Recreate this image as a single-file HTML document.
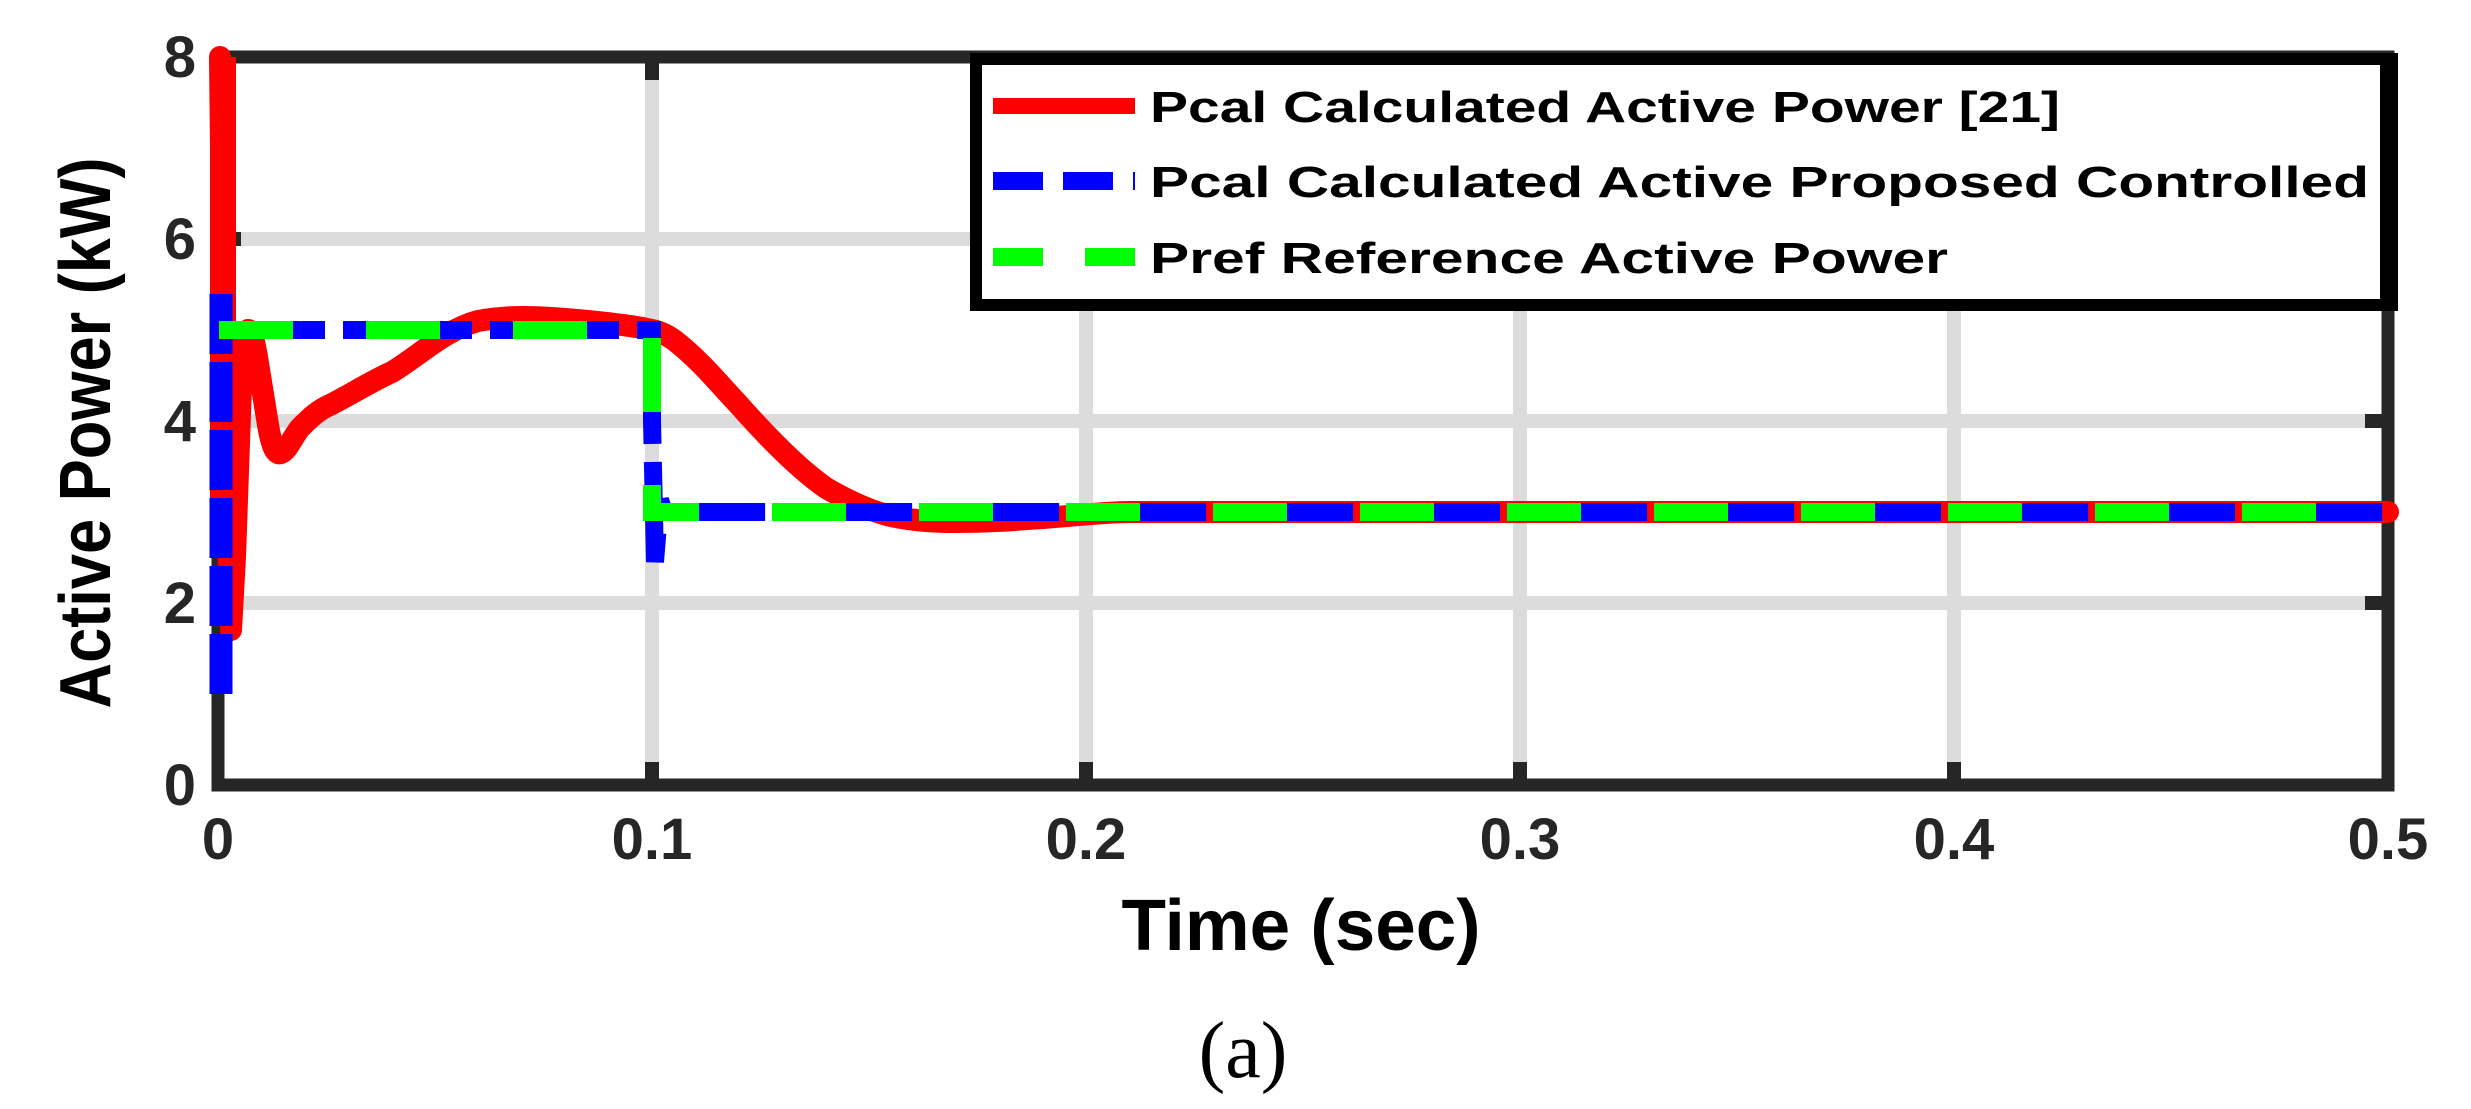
<!DOCTYPE html>
<html><head><meta charset="utf-8"><style>html,body{margin:0;padding:0;background:#fff}svg{display:block}</style></head>
<body>
<svg width="2471" height="1109" viewBox="0 0 2471 1109" xmlns="http://www.w3.org/2000/svg" font-family="Liberation Sans, Arial, sans-serif" font-weight="bold">
<rect width="2471" height="1109" fill="#fff"/>
<!-- grid -->
<g stroke="#dcdcdc" stroke-width="14">
<line x1="652" y1="57" x2="652" y2="785"/>
<line x1="1086" y1="57" x2="1086" y2="785"/>
<line x1="1520" y1="57" x2="1520" y2="785"/>
<line x1="1954" y1="57" x2="1954" y2="785"/>
<line x1="218" y1="239" x2="2388" y2="239"/>
<line x1="218" y1="421" x2="2388" y2="421"/>
<line x1="218" y1="603" x2="2388" y2="603"/>
</g>
<!-- ticks -->
<g stroke="#262626" stroke-width="14">
<line x1="652" y1="57" x2="652" y2="80"/><line x1="652" y1="785" x2="652" y2="762"/>
<line x1="1086" y1="57" x2="1086" y2="80"/><line x1="1086" y1="785" x2="1086" y2="762"/>
<line x1="1520" y1="57" x2="1520" y2="80"/><line x1="1520" y1="785" x2="1520" y2="762"/>
<line x1="1954" y1="57" x2="1954" y2="80"/><line x1="1954" y1="785" x2="1954" y2="762"/>
<line x1="218" y1="239" x2="241" y2="239"/><line x1="2388" y1="239" x2="2365" y2="239"/>
<line x1="218" y1="421" x2="241" y2="421"/><line x1="2388" y1="421" x2="2365" y2="421"/>
<line x1="218" y1="603" x2="241" y2="603"/><line x1="2388" y1="603" x2="2365" y2="603"/>
</g>
<rect x="218" y="57" width="2170" height="728" fill="none" stroke="#262626" stroke-width="13"/>
<!-- red -->
<rect x="210" y="57" width="26" height="480" fill="#f00"/>
<path fill="none" stroke="#f00" stroke-width="22" stroke-linejoin="round" stroke-linecap="round" d="M220,57 L222,239 L227,512 L231,630 L235,557 L242,357 L248,330 C252,330 254,340 257,357 L268,425 C272,448 276,455 281,453 C288,450 292,438 300,428 C310,418 318,410 330,405 C350,395 370,382 392,372 C420,355 445,330 478,321 C510,315 540,317 565,319 C600,322 630,325 652,330 C662,332 668,336 674,340 C700,360 720,385 739,405 C770,440 800,470 826,488 C850,502 870,511 891,516 C915,521 935,522 956,522 C990,522 1015,520 1043,518 C1080,515 1110,512 1129,512 L2388,512"/>
<!-- blue -->
<line x1="221" y1="294" x2="221" y2="699" stroke="#00f" stroke-width="23" stroke-dasharray="60 8"/>
<polyline fill="none" stroke="#00f" stroke-width="18" stroke-dasharray="129 18" stroke-dashoffset="26" points="222,330 652,330 652,420 655,562 660,500 664,512 2388,512"/>
<!-- green -->
<polyline fill="none" stroke="#0f0" stroke-width="18" stroke-dasharray="74 73" points="219,330 652,330 652,512 2388,512"/>
<!-- tick labels -->
<g font-size="58" fill="#262626" text-anchor="end">
<text x="196" y="77">8</text>
<text x="196" y="259">6</text>
<text x="196" y="441">4</text>
<text x="196" y="623">2</text>
<text x="196" y="805">0</text>
</g>
<g font-size="58" fill="#262626" text-anchor="middle">
<text x="218" y="859">0</text>
<text x="652" y="859">0.1</text>
<text x="1086" y="859">0.2</text>
<text x="1520" y="859">0.3</text>
<text x="1954" y="859">0.4</text>
<text x="2388" y="859">0.5</text>
</g>
<text x="0" y="0" font-size="72" fill="#000" text-anchor="middle" textLength="551" lengthAdjust="spacingAndGlyphs" transform="translate(110,433) rotate(-90)">Active Power (kW)</text>
<text x="1301" y="950" font-size="72" fill="#000" text-anchor="middle" textLength="359" lengthAdjust="spacingAndGlyphs">Time (sec)</text>
<text x="1243" y="1077" font-size="80" font-weight="normal" font-family="Liberation Serif, serif" fill="#000" text-anchor="middle">(a)</text>
<!-- legend -->
<rect x="976" y="59" width="1410" height="246" fill="#fff" stroke="#000" stroke-width="12"/>
<rect x="2383" y="53" width="15" height="258" fill="#000"/>
<line x1="993" y1="106" x2="1135" y2="106" stroke="#f00" stroke-width="16"/>
<line x1="993" y1="181" x2="1135" y2="181" stroke="#00f" stroke-width="18" stroke-dasharray="50 20"/>
<line x1="993" y1="257" x2="1135" y2="257" stroke="#0f0" stroke-width="18" stroke-dasharray="50 42"/>
<g font-size="44" fill="#000">
<text x="1150" y="122" textLength="910" lengthAdjust="spacingAndGlyphs">Pcal Calculated Active Power [21]</text>
<text x="1150" y="197" textLength="1219" lengthAdjust="spacingAndGlyphs">Pcal Calculated Active Proposed Controlled</text>
<text x="1150" y="273" textLength="798" lengthAdjust="spacingAndGlyphs">Pref Reference Active Power</text>
</g>
</svg>
</body></html>
